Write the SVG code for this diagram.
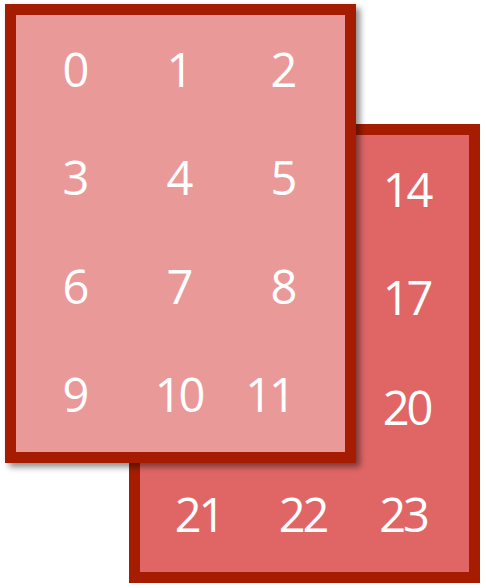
<svg xmlns="http://www.w3.org/2000/svg" width="486" height="588" viewBox="0 0 486 588">
  <defs>
    <filter id="shadow" x="-10%" y="-10%" width="120%" height="120%">
      <feDropShadow dx="4" dy="4" stdDeviation="3" flood-color="#000" flood-opacity="0.45"/>
    </filter>
  </defs>
  <style>
    .card { stroke: #a61c00; stroke-width: 11; }
    .back { fill: #e06666; }
    .front { fill: #ea9999; }
    text { font-family: "Open Sans", "DejaVu Sans", sans-serif; font-size: 47px; font-weight: 500; letter-spacing: -3px; fill: #ffffff; text-anchor: middle; }
  </style>
  <g id="back-card">
    <rect class="card back" x="134.5" y="129.5" width="340" height="448"/>
    <text x="406.5" y="207">14</text>
    <text x="406.5" y="315">17</text>
    <text x="406.5" y="425">20</text>
    <text x="198.5" y="532">21</text>
    <text x="302.5" y="532">22</text>
    <text x="403" y="532">23</text>
  </g>
  <g id="front-card">
    <rect class="card front" x="10.5" y="9.5" width="340" height="448" filter="url(#shadow)"/>
    <text x="74.5" y="87">0</text>
    <text x="178.5" y="87">1</text>
    <text x="282.5" y="87">2</text>
    <text x="74.5" y="195">3</text>
    <text x="178.5" y="195">4</text>
    <text x="282.5" y="195">5</text>
    <text x="74.5" y="304">6</text>
    <text x="178.5" y="304">7</text>
    <text x="282.5" y="304">8</text>
    <text x="74.5" y="412">9</text>
    <text x="178.5" y="412">10</text>
    <text x="269" y="412">11</text>
  </g>
</svg>
